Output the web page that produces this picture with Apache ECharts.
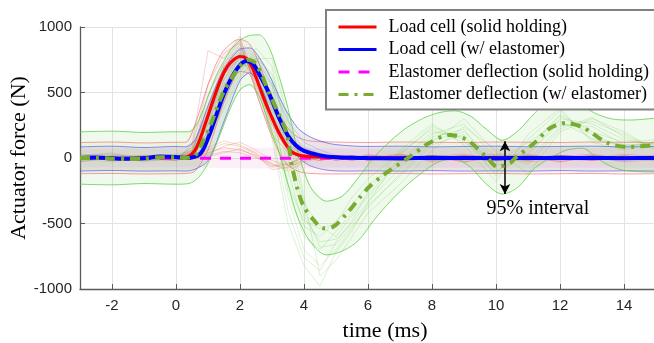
<!DOCTYPE html>
<html><head><meta charset="utf-8">
<script src="https://cdn.jsdelivr.net/npm/echarts@6/dist/echarts.min.js"></script>
<style>html,body{margin:0;padding:0;background:#fff}#c{width:654px;height:343px}</style>
</head><body><div id="c"></div>
<script>
// ---- axis ticks ----
const X_TICKS = [-2, 0, 2, 4, 6, 8, 10, 12, 14];
const Y_TICKS = [-1000, -500, 0, 500, 1000];

// ---- mean curves ----
const RED_T = [-3,-2.5,-2,-1.5,-1,-0.5,0,0.3,0.6,0.9,1.16,1.4,1.6,1.8,2.0,2.2,2.4,2.6,2.8,3.03,3.2,3.4,3.6,3.8,4.0,4.5,5,6,7,8,9,10,11,12,13,14,15];
const RED_V = [0,2,-3,-5,0,8,5,5,60,250,440,600,695,750,775,760,680,550,420,290,200,115,50,25,15,8,5,0,2,-2,0,3,-2,0,2,-1,0];
const BLUE_T = [-3,-2.5,-2,-1.5,-1,-0.5,0,0.3,0.75,1.0,1.28,1.5,1.75,2.0,2.2,2.4,2.6,2.84,3.0,3.25,3.5,3.75,4.0,4.5,5,6,7,8,9,10,11,12,13,14,15];
const BLUE_V = [0,3,-2,-6,-2,12,8,0,30,150,340,490,620,710,740,720,640,530,440,290,170,95,55,20,5,0,-2,1,0,-1,0,1,0,-1,0];
const MAG_T = [-3,0,2,4,6,8,10,12,15];
const MAG_V = [-2,-2,-2,-2,-2,-2,-2,-2,-2];
const GREEN_T = [-3,-2.5,-2,-1.5,-1,-0.5,0,0.3,0.6,0.85,1.06,1.47,1.9,2.25,2.5,2.94,3.2,3.47,3.6,3.8,4.0,4.3,4.6,4.9,5.3,5.75,6.06,6.4,6.7,7.3,7.94,8.56,9.1,9.7,10.05,10.44,10.6,11.2,11.7,12.2,12.7,13.0,13.5,14.1,15];
const GREEN_V = [0,0,-5,-8,-5,5,5,0,20,130,240,495,670,750,720,480,340,180,-30,-240,-374,-473,-537,-527,-435,-300,-215,-145,-90,8,118,176,137,8,-69,-38,0,115,229,267,237,190,114,84,100];

// ---- 95% bands ----
const GB_T = [-3,-2,-1,0,0.4,0.7,1.0,1.3,1.7,2.0,2.3,2.6,2.9,3.2,3.5,3.8,4.2,4.7,5.2,5.7,6.2,6.7,7.2,7.7,8.2,8.7,9.2,9.7,10.2,10.7,11.2,11.7,12.2,12.7,13.2,13.7,14.2,15];
const GB_UP = [200,205,195,200,200,280,470,650,820,900,935,940,850,640,380,60,-220,-330,-290,-150,10,130,230,300,345,360,320,220,135,210,340,440,450,395,330,295,290,305];
const GB_LO = [-200,-205,-195,-200,-195,-150,-40,130,380,520,560,470,260,60,-200,-450,-640,-740,-710,-630,-470,-330,-210,-110,-30,-5,-70,-200,-275,-220,-80,0,60,75,-10,-75,-100,-107];
const RB_T = [-3,-2,-1,0,0.3,0.6,1.0,1.4,1.8,2.0,2.3,2.6,3.0,3.4,3.8,4.2,5,6,7,8,9,10,11,12,13,14,15];
const RB_UP = [118,122,115,120,120,260,560,790,890,905,870,720,460,260,160,130,122,118,122,120,118,122,120,118,122,120,118];
const RB_LO = [-120,-118,-122,-120,-118,-100,60,360,600,660,640,430,160,-30,-100,-118,-122,-120,-118,-122,-120,-118,-122,-120,-118,-122,-120];
const BB_T = [-3,-2,-1,0,0.3,0.6,1.0,1.5,2.0,2.3,2.7,3.0,3.4,3.8,4.2,4.8,5.5,6,7,8,9,10,11,12,13,14,15];
const BB_UP = [85,90,80,88,85,140,400,680,830,840,730,590,380,230,160,110,92,88,90,85,88,90,86,88,90,85,88];
const BB_LO = [-100,-95,-100,-98,-100,-85,-20,280,590,650,520,320,130,10,-60,-95,-100,-98,-100,-96,-100,-98,-100,-96,-100,-98,-100];
const PB_T = [-3,0,1,2,3,4,6,8,10,12,14,15];
const PB_UP = [70,72,75,80,78,75,72,75,73,75,72,74];
const PB_LO = [-72,-70,-75,-78,-80,-75,-73,-75,-72,-75,-73,-74];

// ---- individual trials ----
const TRIAL_T = [-3,-2,-1,0,0.5,1,1.5,2,2.5,3,3.5,4,4.5,5,5.5,6,7,8,9,10,11,12,13,14,15];
const RED_TRIALS = [
  [10,-20,15,0,60,380,700,870,560,260,90,30,10,20,-10,30,-20,10,30,-10,20,-30,10,0,20],
  [-30,10,-10,20,20,250,600,800,720,380,150,60,20,-20,10,-10,30,-30,0,20,-20,10,30,-10,0],
  [20,30,0,-20,100,820,760,930,500,180,40,0,-20,10,20,-20,0,20,-30,10,30,-10,-20,20,-10],
  [0,-10,20,10,40,300,640,760,600,330,120,50,30,0,-20,10,-10,0,20,-20,-10,20,0,30,10],
  [-10,0,-20,-10,30,480,720,900,620,300,110,20,0,-10,20,0,10,-20,10,30,0,-20,10,-30,-10],
  [0,10,-10,0,80,560,800,880,540,220,60,20,-10,0,10,-20,20,0,-10,10,-20,20,0,-10,10],
  [10,-10,0,-20,20,200,520,720,680,420,180,80,30,10,-10,20,0,-10,20,0,10,-10,20,0,-20],
  [-20,20,10,0,50,350,690,840,580,250,70,10,0,20,-10,0,-20,10,0,-20,20,0,-10,10,0]
];
const ORANGE_TRIALS = [
  [0,-10,10,0,0,40,80,60,20,-60,-40,0,10,-10,20,-20,10,-10,20,0,-30,-10,20,0,-10],
  [10,0,-10,5,10,60,110,90,30,-90,-70,-20,20,10,-10,10,30,-20,0,10,-10,20,-20,10,0],
  [-5,10,0,-10,-5,20,50,40,0,-40,-100,-30,0,20,0,-10,-20,20,-10,-20,10,-30,10,-10,20],
  [0,5,-5,10,0,30,90,120,60,-20,-60,10,-20,0,10,20,0,10,-30,10,20,0,-10,20,-20],
  [5,-5,10,0,5,80,130,100,40,-50,-80,-10,10,-20,0,10,-10,20,10,-10,0,10,-20,0,10],
  [-10,0,5,-5,-10,10,40,70,10,-70,-50,20,0,10,-20,0,20,-10,-20,20,-10,0,20,-10,0]
];
const BLUE_TRIALS = [
  [0,10,-10,0,20,200,560,780,690,400,150,70,30,0,10,-10,10,0,-10,10,0,10,-10,0,10],
  [-10,0,10,5,0,120,450,700,760,560,280,120,60,20,0,10,-10,10,0,-10,10,0,10,-10,0]
];
const CYAN_TRIALS = [
  [5,-5,0,10,40,300,690,820,650,360,130,50,10,0,-10,0,10,-10,10,0,-10,0,10,0,-10],
  [0,0,5,-5,10,170,520,740,720,480,200,90,40,10,0,-10,0,10,0,10,-10,10,0,10,0],
  [0,5,0,-5,30,260,640,800,700,420,160,60,20,0,-10,10,0,-10,10,0,10,-10,0,10,-5]
];
const GREEN_TRIALS = [
  [20,40,0,10,30,260,560,700,780,420,-250,-600,-700,-560,-420,-280,-20,200,160,-60,80,330,200,120,140],
  [-30,0,20,-20,10,150,420,650,840,700,100,-400,-680,-660,-520,-380,-120,120,300,40,-50,220,310,160,80],
  [10,-20,-10,30,50,340,680,800,650,200,-400,-760,-860,-640,-480,-260,60,260,100,-180,180,380,120,60,120],
  [0,20,-30,0,20,200,500,720,700,560,-100,-520,-600,-480,-360,-200,-60,160,220,-100,40,260,240,100,90],
  [-10,-30,10,20,0,120,380,620,760,760,300,-300,-900,-780,-600,-420,-200,60,240,60,-120,200,300,200,60],
  [30,0,10,-10,40,300,600,760,720,350,-200,-480,-540,-500,-300,-160,40,220,120,-40,120,280,150,100,110],
  [0,10,-20,10,20,220,520,700,800,600,0,-450,-640,-620,-500,-330,-80,140,200,-20,20,300,260,140,100],
  [-20,10,0,-10,30,280,640,780,700,300,-300,-700,-820,-700,-540,-360,-140,100,180,-140,60,320,180,80,130],
  [10,0,20,0,10,180,460,680,760,640,200,-350,-520,-600,-440,-300,-40,180,260,0,-20,240,280,180,70],
  [0,-10,0,20,60,380,720,850,620,150,-500,-820,-980,-720,-560,-340,20,240,140,-120,140,360,140,90,110]
];

// ---- annotation ----
const ARROW_T = 10.28, ARROW_TOP = 128, ARROW_BOTTOM = -275;
const NOTE_T = 11.31, NOTE_V = -390, NOTE_TEXT = '95% interval';

const LEGEND_NAMES = ['Load cell (solid holding)', 'Load cell (w/ elastomer)', 'Elastomer deflection (solid holding)', 'Elastomer deflection (w/ elastomer)'];

const zip = (t, v) => t.map((x, i) => [x, v[i]]);
const SERIF = 'Liberation Serif';
const SANS = 'Liberation Sans';

const series = [];
function band(t, up, lo, lineColor, fillColor) {
  series.push({
    type: 'custom', silent: true, clip: true, z: 1,
    data: t.map((x, i) => [x, up[i], lo[i]]),
    encode: { x: 0, y: [1, 2] },
    renderItem: (params, api) => {
      if (params.dataIndex !== 0) return null;
      const pts = [];
      for (let i = 0; i < t.length; i++) pts.push(api.coord([t[i], up[i]]));
      for (let i = t.length - 1; i >= 0; i--) pts.push(api.coord([t[i], lo[i]]));
      return { type: 'polygon', shape: { points: pts }, style: { fill: fillColor, stroke: null } };
    }
  });
  if (lineColor) {
    [up, lo].forEach((v) => series.push({
      type: 'line', symbol: 'none', silent: true, data: zip(t, v), smooth: 0.3,
      lineStyle: { color: lineColor, width: 1 }, z: 3
    }));
  }
}
function trials(arr, color) {
  arr.forEach((v) => series.push({
    type: 'line', symbol: 'none', silent: true, data: zip(TRIAL_T, v),
    lineStyle: { color: color, width: 0.8 }, z: 2
  }));
}
band(PB_T, PB_UP, PB_LO, null, 'rgba(230,130,190,0.13)');
band(RB_T, RB_UP, RB_LO, 'rgba(235,90,80,0.55)', 'rgba(220,110,130,0.07)');
band(BB_T, BB_UP, BB_LO, 'rgba(70,70,235,0.6)', 'rgba(110,110,140,0.13)');
band(GB_T, GB_UP, GB_LO, 'rgba(90,210,70,0.8)', 'rgba(120,215,100,0.12)');
trials(ORANGE_TRIALS, 'rgba(225,110,60,0.35)');
trials(RED_TRIALS, 'rgba(200,70,90,0.3)');
trials(BLUE_TRIALS, 'rgba(80,110,220,0.3)');
trials(CYAN_TRIALS, 'rgba(90,200,230,0.35)');
trials(GREEN_TRIALS, 'rgba(110,200,80,0.3)');

series.push({ type: 'line', name: LEGEND_NAMES[2], symbol: 'none', data: zip(MAG_T, MAG_V),
  lineStyle: { color: '#ff00ff', width: 3, type: [11, 9] }, itemStyle: { color: '#ff00ff' }, z: 5 });
series.push({ type: 'line', name: LEGEND_NAMES[0], symbol: 'none', data: zip(RED_T, RED_V), smooth: 0.3,
  lineStyle: { color: '#ff0000', width: 3.2 }, itemStyle: { color: '#ff0000' }, z: 6 });
series.push({ type: 'line', name: LEGEND_NAMES[1], symbol: 'none', data: zip(BLUE_T, BLUE_V), smooth: 0.3,
  lineStyle: { color: '#0000ff', width: 4 }, itemStyle: { color: '#0000ff' }, z: 7 });
series.push({ type: 'line', name: LEGEND_NAMES[3], symbol: 'none', data: zip(GREEN_T, GREEN_V), smooth: 0.3,
  lineStyle: { color: '#77ac30', width: 4, type: [10, 6, 3, 6] }, itemStyle: { color: '#77ac30' }, z: 8,
  markLine: {
    silent: true, symbol: ['arrow', 'arrow'], symbolSize: [8, 10], animation: false,
    lineStyle: { color: '#000', width: 1.5, type: 'solid' }, label: { show: false },
    data: [[{ coord: [ARROW_T, ARROW_TOP] }, { coord: [ARROW_T, ARROW_BOTTOM] }]]
  },
  markPoint: {
    silent: true, symbol: 'circle', symbolSize: 1, itemStyle: { color: 'rgba(0,0,0,0)' },
    label: { show: true, position: 'inside', formatter: NOTE_TEXT, color: '#000', fontFamily: SERIF, fontSize: 20 },
    data: [{ coord: [NOTE_T, NOTE_V] }]
  }
});

const chart = echarts.init(document.getElementById('c'), null, { renderer: 'canvas' });
chart.setOption({
  animation: false,
  backgroundColor: '#fff',
  grid: { left: 80, right: -2, top: 27, bottom: 54, outerBoundsMode: 'none', containLabel: false },
  legend: {
    data: LEGEND_NAMES, orient: 'vertical', left: 326, top: 10,
    padding: [8, 6, 6, 11], itemGap: 4.5, itemWidth: 38, itemHeight: 14,
    backgroundColor: '#fff', borderColor: '#808080', borderWidth: 2, borderRadius: 0,
    itemStyle: { color: 'rgba(0,0,0,0)', borderWidth: 0, opacity: 0 },
    lineStyle: { width: 3 },
    textStyle: { fontFamily: SERIF, fontSize: 18, color: '#000', lineHeight: 18, padding: [0, 0, 0, 7] },
    selectedMode: false
  },
  xAxis: {
    type: 'value', min: -3, max: 15,
    name: 'time (ms)', nameLocation: 'middle', nameGap: 31, nameMoveOverlap: false,
    nameTextStyle: { fontFamily: SERIF, fontSize: 22, color: '#000', padding: [0, 0, 0, 34] },
    axisLine: { onZero: false, lineStyle: { color: '#5a5a5a', width: 1.3 } },
    axisTick: { inside: true, length: 5, customValues: X_TICKS, lineStyle: { color: '#5a5a5a' } },
    axisLabel: { customValues: X_TICKS, fontFamily: SANS, fontSize: 15, color: '#262626', margin: 9 },
    splitLine: { show: true, lineStyle: { color: '#e3e3e3', width: 1 } }
  },
  yAxis: {
    type: 'value', min: -1000, max: 1000, interval: 500,
    name: 'Actuator force (N)', nameLocation: 'middle', nameGap: 50, nameMoveOverlap: false,
    nameTextStyle: { fontFamily: SERIF, fontSize: 22, color: '#000' },
    axisLine: { show: true, onZero: false, lineStyle: { color: '#5a5a5a', width: 1.3 } },
    axisTick: { show: true, inside: true, length: 5, lineStyle: { color: '#5a5a5a' } },
    axisLabel: { fontFamily: SANS, fontSize: 15, color: '#262626', margin: 8,
      formatter: (v) => (Y_TICKS.indexOf(v) >= 0 ? String(v) : '') },
    splitLine: { show: true, lineStyle: { color: '#e3e3e3', width: 1 } }
  },
  series: series
});
</script></body></html>
